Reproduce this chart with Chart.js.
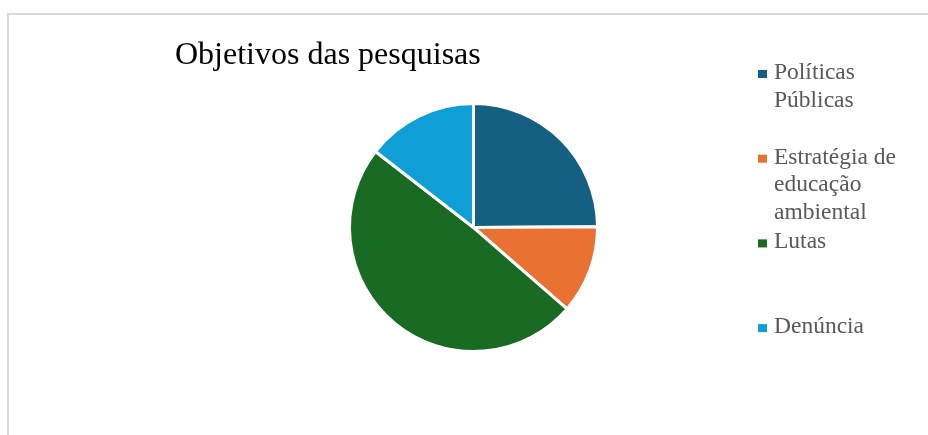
<!DOCTYPE html>
<html>
<head>
<meta charset="utf-8">
<script src="https://cdn.jsdelivr.net/npm/chart.js@4.4.1/dist/chart.umd.min.js"></script>
<style>
  html, body { margin: 0; padding: 0; background: #fff; }
  #wrap { position: relative; width: 928px; height: 435px; overflow: hidden; }
  #frame { position: absolute; left: 7px; top: 13px; width: 1000px; height: 1000px;
           border-left: 2px solid #d9d9d9; border-top: 2px solid #d9d9d9; }
  #chart { position: absolute; left: 0; top: 0; }
</style>
</head>
<body>
<div id="wrap">
  <div id="frame"></div>
  <canvas id="chart" width="928" height="435"></canvas>
</div>
<script>
// data (shares in %)
const chartTitle = "Objetivos das pesquisas";
const categories = ["Políticas Públicas", "Estratégia de educação ambiental", "Lutas", "Denúncia"];
const legendLines = [["Políticas", "Públicas"], ["Estratégia de", "educação", "ambiental"], ["Lutas"], ["Denúncia"]];
const values = [24.9, 11.5, 49.1, 14.5];
const colors = ["#156082", "#E97132", "#196B24", "#0F9ED5"];

// title + legend drawn next to the pie
const sideText = {
    id: "sideText",
    afterDraw(chart) {
        const ctx = chart.ctx;
        ctx.save();
        ctx.textBaseline = "alphabetic";
        ctx.textAlign = "left";
        ctx.fillStyle = "#000";
        ctx.font = "32px 'Liberation Serif', 'Times New Roman', serif";
        ctx.fillText(chartTitle, 175, 64);

        ctx.font = "23.5px 'Liberation Serif', 'Times New Roman', serif";
        const items = chart.legend.legendItems;
        items.forEach((item, i) => {
            const base = 79 + i * 84.7;
            ctx.fillStyle = item.fillStyle;
            ctx.fillRect(758, base - 9, 9, 8);
            ctx.fillStyle = "#595959";
            legendLines[i].forEach((ln, j) => {
                ctx.fillText(ln, 774, base + j * 27.5);
            });
        });
        ctx.restore();
    }
};

const ctx = document.getElementById("chart").getContext("2d");
new Chart(ctx, {
    type: "pie",
    data: {
        labels: categories,
        datasets: [{
            data: values,
            backgroundColor: colors,
            borderColor: "#ffffff",
            borderWidth: 3
        }]
    },
    options: {
        responsive: false,
        animation: false,
        layout: { padding: { left: 348, right: 329, top: 102, bottom: 82 } },
        plugins: {
            legend: { display: false },
            tooltip: { enabled: false }
        }
    },
    plugins: [sideText]
});
</script>
</body>
</html>
